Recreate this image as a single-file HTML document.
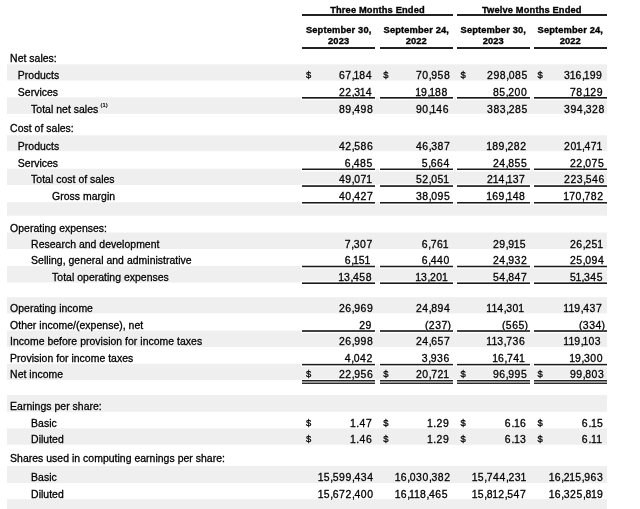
<!DOCTYPE html>
<html><head><meta charset="utf-8"><style>
html,body{margin:0;padding:0;background:#fff;width:640px;height:509px;overflow:hidden;position:relative}
body{font-family:"Liberation Sans",sans-serif;color:#000}
.sh{position:absolute;left:7px;width:600px;background:#efefef}
.t{position:absolute;font-size:10.45px;line-height:14px;white-space:nowrap;-webkit-text-stroke:0.3px #000;text-shadow:0 0 1px #fff,0 0 1px #fff}
.lb{letter-spacing:0.03px}
.n{letter-spacing:0.6px}
.n i{font-style:normal}
.d{font-size:9.4px}
.n i.o{letter-spacing:0.1px;margin-left:-0.75px}
.n i.c{letter-spacing:-0.4px}
.n i.p{letter-spacing:0.5px;margin-left:0.3px}
.sup{position:absolute;left:100.6px;top:101.4px;font-size:5.8px;line-height:8px;-webkit-text-stroke:0.2px #000}
.h{position:absolute;width:120px;text-align:center;font-size:9.3px;line-height:12px;font-weight:bold;white-space:nowrap;letter-spacing:0.15px;-webkit-text-stroke:0.35px #000}
.hl{position:absolute;height:2px;background:#222}
.ul{position:absolute;height:1px;background:#1a1a1a}
.halo{position:absolute;height:1px;background:#fff}
.dl{position:absolute;height:4px;background:linear-gradient(#222 0,#222 1px,#8c8c8c 1px,#8c8c8c 2px,#999 2px,#999 3px,#2a2a2a 3px)}
</style></head><body>
<div id="w" style="position:absolute;left:0;top:0;width:640px;height:509px;will-change:transform"><div class="sh" style="top:65px;height:15px"></div><div class="sh" style="top:64px;height:1px;opacity:0.70"></div><div class="sh" style="top:80px;height:1px;opacity:0.60"></div><div class="sh" style="top:98px;height:15px"></div><div class="sh" style="top:97px;height:1px;opacity:0.70"></div><div class="sh" style="top:113px;height:1px;opacity:0.80"></div><div class="sh" style="top:136px;height:15px"></div><div class="sh" style="top:135px;height:1px;opacity:0.75"></div><div class="sh" style="top:151px;height:1px;opacity:0.20"></div><div class="sh" style="top:169px;height:16px"></div><div class="sh" style="top:168px;height:1px;opacity:0.30"></div><div class="sh" style="top:203px;height:12px"></div><div class="sh" style="top:202px;height:1px;opacity:0.80"></div><div class="sh" style="top:215px;height:1px;opacity:0.70"></div><div class="sh" style="top:233px;height:16px"></div><div class="sh" style="top:232px;height:1px;opacity:0.50"></div><div class="sh" style="top:266px;height:16px"></div><div class="sh" style="top:282px;height:1px;opacity:0.50"></div><div class="sh" style="top:298px;height:15px"></div><div class="sh" style="top:297px;height:1px;opacity:0.80"></div><div class="sh" style="top:313px;height:1px;opacity:0.40"></div><div class="sh" style="top:331px;height:16px"></div><div class="sh" style="top:330px;height:1px;opacity:0.50"></div><div class="sh" style="top:364px;height:16px"></div><div class="sh" style="top:363px;height:1px;opacity:0.25"></div><div class="sh" style="top:395px;height:16px"></div><div class="sh" style="top:411px;height:1px;opacity:0.80"></div><div class="sh" style="top:429px;height:15px"></div><div class="sh" style="top:428px;height:1px;opacity:0.70"></div><div class="sh" style="top:444px;height:1px;opacity:0.80"></div><div class="sh" style="top:466px;height:17px"></div><div class="sh" style="top:500px;height:9px"></div><div class="sh" style="top:499px;height:1px;opacity:0.90"></div><div class="halo" style="left:301.00px;top:95px;width:75.40px;opacity:0.38"></div><div class="halo" style="left:378.60px;top:95px;width:75.40px;opacity:0.38"></div><div class="halo" style="left:455.60px;top:95px;width:75.40px;opacity:0.38"></div><div class="halo" style="left:532.60px;top:95px;width:75.40px;opacity:0.38"></div><div class="halo" style="left:301.00px;top:96px;width:75.40px;opacity:1.00"></div><div class="halo" style="left:378.60px;top:96px;width:75.40px;opacity:1.00"></div><div class="halo" style="left:455.60px;top:96px;width:75.40px;opacity:1.00"></div><div class="halo" style="left:532.60px;top:96px;width:75.40px;opacity:1.00"></div><div class="halo" style="left:301.00px;top:97px;width:75.40px;opacity:1.00"></div><div class="halo" style="left:378.60px;top:97px;width:75.40px;opacity:1.00"></div><div class="halo" style="left:455.60px;top:97px;width:75.40px;opacity:1.00"></div><div class="halo" style="left:532.60px;top:97px;width:75.40px;opacity:1.00"></div><div class="halo" style="left:301.00px;top:98px;width:75.40px;opacity:1.00"></div><div class="halo" style="left:378.60px;top:98px;width:75.40px;opacity:1.00"></div><div class="halo" style="left:455.60px;top:98px;width:75.40px;opacity:1.00"></div><div class="halo" style="left:532.60px;top:98px;width:75.40px;opacity:1.00"></div><div class="halo" style="left:301.00px;top:99px;width:75.40px;opacity:1.00"></div><div class="halo" style="left:378.60px;top:99px;width:75.40px;opacity:1.00"></div><div class="halo" style="left:455.60px;top:99px;width:75.40px;opacity:1.00"></div><div class="halo" style="left:532.60px;top:99px;width:75.40px;opacity:1.00"></div><div class="halo" style="left:301.00px;top:100px;width:75.40px;opacity:0.07"></div><div class="halo" style="left:378.60px;top:100px;width:75.40px;opacity:0.07"></div><div class="halo" style="left:455.60px;top:100px;width:75.40px;opacity:0.07"></div><div class="halo" style="left:532.60px;top:100px;width:75.40px;opacity:0.07"></div><div class="halo" style="left:301.00px;top:167px;width:75.40px;opacity:0.92"></div><div class="halo" style="left:378.60px;top:167px;width:75.40px;opacity:0.92"></div><div class="halo" style="left:455.60px;top:167px;width:75.40px;opacity:0.92"></div><div class="halo" style="left:532.60px;top:167px;width:75.40px;opacity:0.92"></div><div class="halo" style="left:301.00px;top:168px;width:75.40px;opacity:1.00"></div><div class="halo" style="left:378.60px;top:168px;width:75.40px;opacity:1.00"></div><div class="halo" style="left:455.60px;top:168px;width:75.40px;opacity:1.00"></div><div class="halo" style="left:532.60px;top:168px;width:75.40px;opacity:1.00"></div><div class="halo" style="left:301.00px;top:169px;width:75.40px;opacity:1.00"></div><div class="halo" style="left:378.60px;top:169px;width:75.40px;opacity:1.00"></div><div class="halo" style="left:455.60px;top:169px;width:75.40px;opacity:1.00"></div><div class="halo" style="left:532.60px;top:169px;width:75.40px;opacity:1.00"></div><div class="halo" style="left:301.00px;top:170px;width:75.40px;opacity:1.00"></div><div class="halo" style="left:378.60px;top:170px;width:75.40px;opacity:1.00"></div><div class="halo" style="left:455.60px;top:170px;width:75.40px;opacity:1.00"></div><div class="halo" style="left:532.60px;top:170px;width:75.40px;opacity:1.00"></div><div class="halo" style="left:301.00px;top:171px;width:75.40px;opacity:0.53"></div><div class="halo" style="left:378.60px;top:171px;width:75.40px;opacity:0.53"></div><div class="halo" style="left:455.60px;top:171px;width:75.40px;opacity:0.53"></div><div class="halo" style="left:532.60px;top:171px;width:75.40px;opacity:0.53"></div><div class="halo" style="left:301.00px;top:183px;width:75.40px;opacity:0.17"></div><div class="halo" style="left:378.60px;top:183px;width:75.40px;opacity:0.17"></div><div class="halo" style="left:455.60px;top:183px;width:75.40px;opacity:0.17"></div><div class="halo" style="left:532.60px;top:183px;width:75.40px;opacity:0.17"></div><div class="halo" style="left:301.00px;top:184px;width:75.40px;opacity:1.00"></div><div class="halo" style="left:378.60px;top:184px;width:75.40px;opacity:1.00"></div><div class="halo" style="left:455.60px;top:184px;width:75.40px;opacity:1.00"></div><div class="halo" style="left:532.60px;top:184px;width:75.40px;opacity:1.00"></div><div class="halo" style="left:301.00px;top:185px;width:75.40px;opacity:1.00"></div><div class="halo" style="left:378.60px;top:185px;width:75.40px;opacity:1.00"></div><div class="halo" style="left:455.60px;top:185px;width:75.40px;opacity:1.00"></div><div class="halo" style="left:532.60px;top:185px;width:75.40px;opacity:1.00"></div><div class="halo" style="left:301.00px;top:186px;width:75.40px;opacity:1.00"></div><div class="halo" style="left:378.60px;top:186px;width:75.40px;opacity:1.00"></div><div class="halo" style="left:455.60px;top:186px;width:75.40px;opacity:1.00"></div><div class="halo" style="left:532.60px;top:186px;width:75.40px;opacity:1.00"></div><div class="halo" style="left:301.00px;top:187px;width:75.40px;opacity:1.00"></div><div class="halo" style="left:378.60px;top:187px;width:75.40px;opacity:1.00"></div><div class="halo" style="left:455.60px;top:187px;width:75.40px;opacity:1.00"></div><div class="halo" style="left:532.60px;top:187px;width:75.40px;opacity:1.00"></div><div class="halo" style="left:301.00px;top:188px;width:75.40px;opacity:0.28"></div><div class="halo" style="left:378.60px;top:188px;width:75.40px;opacity:0.28"></div><div class="halo" style="left:455.60px;top:188px;width:75.40px;opacity:0.28"></div><div class="halo" style="left:532.60px;top:188px;width:75.40px;opacity:0.28"></div><div class="halo" style="left:301.00px;top:200px;width:75.40px;opacity:0.47"></div><div class="halo" style="left:378.60px;top:200px;width:75.40px;opacity:0.47"></div><div class="halo" style="left:455.60px;top:200px;width:75.40px;opacity:0.47"></div><div class="halo" style="left:532.60px;top:200px;width:75.40px;opacity:0.47"></div><div class="halo" style="left:301.00px;top:201px;width:75.40px;opacity:1.00"></div><div class="halo" style="left:378.60px;top:201px;width:75.40px;opacity:1.00"></div><div class="halo" style="left:455.60px;top:201px;width:75.40px;opacity:1.00"></div><div class="halo" style="left:532.60px;top:201px;width:75.40px;opacity:1.00"></div><div class="halo" style="left:301.00px;top:202px;width:75.40px;opacity:1.00"></div><div class="halo" style="left:378.60px;top:202px;width:75.40px;opacity:1.00"></div><div class="halo" style="left:455.60px;top:202px;width:75.40px;opacity:1.00"></div><div class="halo" style="left:532.60px;top:202px;width:75.40px;opacity:1.00"></div><div class="halo" style="left:301.00px;top:203px;width:75.40px;opacity:1.00"></div><div class="halo" style="left:378.60px;top:203px;width:75.40px;opacity:1.00"></div><div class="halo" style="left:455.60px;top:203px;width:75.40px;opacity:1.00"></div><div class="halo" style="left:532.60px;top:203px;width:75.40px;opacity:1.00"></div><div class="halo" style="left:301.00px;top:204px;width:75.40px;opacity:0.97"></div><div class="halo" style="left:378.60px;top:204px;width:75.40px;opacity:0.97"></div><div class="halo" style="left:455.60px;top:204px;width:75.40px;opacity:0.97"></div><div class="halo" style="left:532.60px;top:204px;width:75.40px;opacity:0.97"></div><div class="halo" style="left:301.00px;top:264px;width:75.40px;opacity:0.73"></div><div class="halo" style="left:378.60px;top:264px;width:75.40px;opacity:0.73"></div><div class="halo" style="left:455.60px;top:264px;width:75.40px;opacity:0.73"></div><div class="halo" style="left:532.60px;top:264px;width:75.40px;opacity:0.73"></div><div class="halo" style="left:301.00px;top:265px;width:75.40px;opacity:1.00"></div><div class="halo" style="left:378.60px;top:265px;width:75.40px;opacity:1.00"></div><div class="halo" style="left:455.60px;top:265px;width:75.40px;opacity:1.00"></div><div class="halo" style="left:532.60px;top:265px;width:75.40px;opacity:1.00"></div><div class="halo" style="left:301.00px;top:266px;width:75.40px;opacity:1.00"></div><div class="halo" style="left:378.60px;top:266px;width:75.40px;opacity:1.00"></div><div class="halo" style="left:455.60px;top:266px;width:75.40px;opacity:1.00"></div><div class="halo" style="left:532.60px;top:266px;width:75.40px;opacity:1.00"></div><div class="halo" style="left:301.00px;top:267px;width:75.40px;opacity:1.00"></div><div class="halo" style="left:378.60px;top:267px;width:75.40px;opacity:1.00"></div><div class="halo" style="left:455.60px;top:267px;width:75.40px;opacity:1.00"></div><div class="halo" style="left:532.60px;top:267px;width:75.40px;opacity:1.00"></div><div class="halo" style="left:301.00px;top:268px;width:75.40px;opacity:0.73"></div><div class="halo" style="left:378.60px;top:268px;width:75.40px;opacity:0.73"></div><div class="halo" style="left:455.60px;top:268px;width:75.40px;opacity:0.73"></div><div class="halo" style="left:532.60px;top:268px;width:75.40px;opacity:0.73"></div><div class="halo" style="left:301.00px;top:281px;width:75.40px;opacity:1.00"></div><div class="halo" style="left:378.60px;top:281px;width:75.40px;opacity:1.00"></div><div class="halo" style="left:455.60px;top:281px;width:75.40px;opacity:1.00"></div><div class="halo" style="left:532.60px;top:281px;width:75.40px;opacity:1.00"></div><div class="halo" style="left:301.00px;top:282px;width:75.40px;opacity:1.00"></div><div class="halo" style="left:378.60px;top:282px;width:75.40px;opacity:1.00"></div><div class="halo" style="left:455.60px;top:282px;width:75.40px;opacity:1.00"></div><div class="halo" style="left:532.60px;top:282px;width:75.40px;opacity:1.00"></div><div class="halo" style="left:301.00px;top:283px;width:75.40px;opacity:1.00"></div><div class="halo" style="left:378.60px;top:283px;width:75.40px;opacity:1.00"></div><div class="halo" style="left:455.60px;top:283px;width:75.40px;opacity:1.00"></div><div class="halo" style="left:532.60px;top:283px;width:75.40px;opacity:1.00"></div><div class="halo" style="left:301.00px;top:284px;width:75.40px;opacity:1.00"></div><div class="halo" style="left:378.60px;top:284px;width:75.40px;opacity:1.00"></div><div class="halo" style="left:455.60px;top:284px;width:75.40px;opacity:1.00"></div><div class="halo" style="left:532.60px;top:284px;width:75.40px;opacity:1.00"></div><div class="halo" style="left:301.00px;top:285px;width:75.40px;opacity:0.43"></div><div class="halo" style="left:378.60px;top:285px;width:75.40px;opacity:0.43"></div><div class="halo" style="left:455.60px;top:285px;width:75.40px;opacity:0.43"></div><div class="halo" style="left:532.60px;top:285px;width:75.40px;opacity:0.43"></div><div class="halo" style="left:301.00px;top:328px;width:75.40px;opacity:0.23"></div><div class="halo" style="left:378.60px;top:328px;width:75.40px;opacity:0.23"></div><div class="halo" style="left:455.60px;top:328px;width:75.40px;opacity:0.23"></div><div class="halo" style="left:532.60px;top:328px;width:75.40px;opacity:0.23"></div><div class="halo" style="left:301.00px;top:329px;width:75.40px;opacity:1.00"></div><div class="halo" style="left:378.60px;top:329px;width:75.40px;opacity:1.00"></div><div class="halo" style="left:455.60px;top:329px;width:75.40px;opacity:1.00"></div><div class="halo" style="left:532.60px;top:329px;width:75.40px;opacity:1.00"></div><div class="halo" style="left:301.00px;top:330px;width:75.40px;opacity:1.00"></div><div class="halo" style="left:378.60px;top:330px;width:75.40px;opacity:1.00"></div><div class="halo" style="left:455.60px;top:330px;width:75.40px;opacity:1.00"></div><div class="halo" style="left:532.60px;top:330px;width:75.40px;opacity:1.00"></div><div class="halo" style="left:301.00px;top:331px;width:75.40px;opacity:1.00"></div><div class="halo" style="left:378.60px;top:331px;width:75.40px;opacity:1.00"></div><div class="halo" style="left:455.60px;top:331px;width:75.40px;opacity:1.00"></div><div class="halo" style="left:532.60px;top:331px;width:75.40px;opacity:1.00"></div><div class="halo" style="left:301.00px;top:332px;width:75.40px;opacity:1.00"></div><div class="halo" style="left:378.60px;top:332px;width:75.40px;opacity:1.00"></div><div class="halo" style="left:455.60px;top:332px;width:75.40px;opacity:1.00"></div><div class="halo" style="left:532.60px;top:332px;width:75.40px;opacity:1.00"></div><div class="halo" style="left:301.00px;top:333px;width:75.40px;opacity:0.23"></div><div class="halo" style="left:378.60px;top:333px;width:75.40px;opacity:0.23"></div><div class="halo" style="left:455.60px;top:333px;width:75.40px;opacity:0.23"></div><div class="halo" style="left:532.60px;top:333px;width:75.40px;opacity:0.23"></div><div class="halo" style="left:301.00px;top:362px;width:75.40px;opacity:0.62"></div><div class="halo" style="left:378.60px;top:362px;width:75.40px;opacity:0.62"></div><div class="halo" style="left:455.60px;top:362px;width:75.40px;opacity:0.62"></div><div class="halo" style="left:532.60px;top:362px;width:75.40px;opacity:0.62"></div><div class="halo" style="left:301.00px;top:363px;width:75.40px;opacity:1.00"></div><div class="halo" style="left:378.60px;top:363px;width:75.40px;opacity:1.00"></div><div class="halo" style="left:455.60px;top:363px;width:75.40px;opacity:1.00"></div><div class="halo" style="left:532.60px;top:363px;width:75.40px;opacity:1.00"></div><div class="halo" style="left:301.00px;top:364px;width:75.40px;opacity:1.00"></div><div class="halo" style="left:378.60px;top:364px;width:75.40px;opacity:1.00"></div><div class="halo" style="left:455.60px;top:364px;width:75.40px;opacity:1.00"></div><div class="halo" style="left:532.60px;top:364px;width:75.40px;opacity:1.00"></div><div class="halo" style="left:301.00px;top:365px;width:75.40px;opacity:1.00"></div><div class="halo" style="left:378.60px;top:365px;width:75.40px;opacity:1.00"></div><div class="halo" style="left:455.60px;top:365px;width:75.40px;opacity:1.00"></div><div class="halo" style="left:532.60px;top:365px;width:75.40px;opacity:1.00"></div><div class="halo" style="left:301.00px;top:366px;width:75.40px;opacity:0.83"></div><div class="halo" style="left:378.60px;top:366px;width:75.40px;opacity:0.83"></div><div class="halo" style="left:455.60px;top:366px;width:75.40px;opacity:0.83"></div><div class="halo" style="left:532.60px;top:366px;width:75.40px;opacity:0.83"></div><div class="halo" style="left:301.00px;top:379px;width:75.40px;height:6px;opacity:0.8"></div><div class="halo" style="left:378.60px;top:379px;width:75.40px;height:6px;opacity:0.8"></div><div class="halo" style="left:455.60px;top:379px;width:75.40px;height:6px;opacity:0.8"></div><div class="halo" style="left:532.60px;top:379px;width:75.40px;height:6px;opacity:0.8"></div><div class="ul" style="left:302.20px;top:97px;width:73.0px;opacity:1.00"></div><div class="ul" style="left:379.80px;top:97px;width:73.0px;opacity:1.00"></div><div class="ul" style="left:456.80px;top:97px;width:73.0px;opacity:1.00"></div><div class="ul" style="left:533.80px;top:97px;width:73.0px;opacity:1.00"></div><div class="ul" style="left:302.20px;top:98px;width:73.0px;opacity:0.66"></div><div class="ul" style="left:379.80px;top:98px;width:73.0px;opacity:0.66"></div><div class="ul" style="left:456.80px;top:98px;width:73.0px;opacity:0.66"></div><div class="ul" style="left:533.80px;top:98px;width:73.0px;opacity:0.66"></div><div class="ul" style="left:302.20px;top:168px;width:73.0px;opacity:0.49"></div><div class="ul" style="left:379.80px;top:168px;width:73.0px;opacity:0.49"></div><div class="ul" style="left:456.80px;top:168px;width:73.0px;opacity:0.49"></div><div class="ul" style="left:533.80px;top:168px;width:73.0px;opacity:0.49"></div><div class="ul" style="left:302.20px;top:169px;width:73.0px;opacity:1.00"></div><div class="ul" style="left:379.80px;top:169px;width:73.0px;opacity:1.00"></div><div class="ul" style="left:456.80px;top:169px;width:73.0px;opacity:1.00"></div><div class="ul" style="left:533.80px;top:169px;width:73.0px;opacity:1.00"></div><div class="ul" style="left:302.20px;top:185px;width:73.0px;opacity:0.78"></div><div class="ul" style="left:379.80px;top:185px;width:73.0px;opacity:0.78"></div><div class="ul" style="left:456.80px;top:185px;width:73.0px;opacity:0.78"></div><div class="ul" style="left:533.80px;top:185px;width:73.0px;opacity:0.78"></div><div class="ul" style="left:302.20px;top:186px;width:73.0px;opacity:0.89"></div><div class="ul" style="left:379.80px;top:186px;width:73.0px;opacity:0.89"></div><div class="ul" style="left:456.80px;top:186px;width:73.0px;opacity:0.89"></div><div class="ul" style="left:533.80px;top:186px;width:73.0px;opacity:0.89"></div><div class="ul" style="left:302.20px;top:202px;width:73.0px;opacity:1.00"></div><div class="ul" style="left:379.80px;top:202px;width:73.0px;opacity:1.00"></div><div class="ul" style="left:456.80px;top:202px;width:73.0px;opacity:1.00"></div><div class="ul" style="left:533.80px;top:202px;width:73.0px;opacity:1.00"></div><div class="ul" style="left:302.20px;top:203px;width:73.0px;opacity:0.55"></div><div class="ul" style="left:379.80px;top:203px;width:73.0px;opacity:0.55"></div><div class="ul" style="left:456.80px;top:203px;width:73.0px;opacity:0.55"></div><div class="ul" style="left:533.80px;top:203px;width:73.0px;opacity:0.55"></div><div class="ul" style="left:302.20px;top:265px;width:73.0px;opacity:0.26"></div><div class="ul" style="left:379.80px;top:265px;width:73.0px;opacity:0.26"></div><div class="ul" style="left:456.80px;top:265px;width:73.0px;opacity:0.26"></div><div class="ul" style="left:533.80px;top:265px;width:73.0px;opacity:0.26"></div><div class="ul" style="left:302.20px;top:266px;width:73.0px;opacity:1.00"></div><div class="ul" style="left:379.80px;top:266px;width:73.0px;opacity:1.00"></div><div class="ul" style="left:456.80px;top:266px;width:73.0px;opacity:1.00"></div><div class="ul" style="left:533.80px;top:266px;width:73.0px;opacity:1.00"></div><div class="ul" style="left:302.20px;top:267px;width:73.0px;opacity:0.26"></div><div class="ul" style="left:379.80px;top:267px;width:73.0px;opacity:0.26"></div><div class="ul" style="left:456.80px;top:267px;width:73.0px;opacity:0.26"></div><div class="ul" style="left:533.80px;top:267px;width:73.0px;opacity:0.26"></div><div class="ul" style="left:302.20px;top:282px;width:73.0px;opacity:0.60"></div><div class="ul" style="left:379.80px;top:282px;width:73.0px;opacity:0.60"></div><div class="ul" style="left:456.80px;top:282px;width:73.0px;opacity:0.60"></div><div class="ul" style="left:533.80px;top:282px;width:73.0px;opacity:0.60"></div><div class="ul" style="left:302.20px;top:283px;width:73.0px;opacity:1.00"></div><div class="ul" style="left:379.80px;top:283px;width:73.0px;opacity:1.00"></div><div class="ul" style="left:456.80px;top:283px;width:73.0px;opacity:1.00"></div><div class="ul" style="left:533.80px;top:283px;width:73.0px;opacity:1.00"></div><div class="ul" style="left:302.20px;top:330px;width:73.0px;opacity:0.83"></div><div class="ul" style="left:379.80px;top:330px;width:73.0px;opacity:0.83"></div><div class="ul" style="left:456.80px;top:330px;width:73.0px;opacity:0.83"></div><div class="ul" style="left:533.80px;top:330px;width:73.0px;opacity:0.83"></div><div class="ul" style="left:302.20px;top:331px;width:73.0px;opacity:0.83"></div><div class="ul" style="left:379.80px;top:331px;width:73.0px;opacity:0.83"></div><div class="ul" style="left:456.80px;top:331px;width:73.0px;opacity:0.83"></div><div class="ul" style="left:533.80px;top:331px;width:73.0px;opacity:0.83"></div><div class="ul" style="left:302.20px;top:363px;width:73.0px;opacity:0.14"></div><div class="ul" style="left:379.80px;top:363px;width:73.0px;opacity:0.14"></div><div class="ul" style="left:456.80px;top:363px;width:73.0px;opacity:0.14"></div><div class="ul" style="left:533.80px;top:363px;width:73.0px;opacity:0.14"></div><div class="ul" style="left:302.20px;top:364px;width:73.0px;opacity:1.00"></div><div class="ul" style="left:379.80px;top:364px;width:73.0px;opacity:1.00"></div><div class="ul" style="left:456.80px;top:364px;width:73.0px;opacity:1.00"></div><div class="ul" style="left:533.80px;top:364px;width:73.0px;opacity:1.00"></div><div class="ul" style="left:302.20px;top:365px;width:73.0px;opacity:0.37"></div><div class="ul" style="left:379.80px;top:365px;width:73.0px;opacity:0.37"></div><div class="ul" style="left:456.80px;top:365px;width:73.0px;opacity:0.37"></div><div class="ul" style="left:533.80px;top:365px;width:73.0px;opacity:0.37"></div><div class="dl" style="left:302.20px;top:380px;width:73.0px"></div><div class="dl" style="left:379.80px;top:380px;width:73.0px"></div><div class="dl" style="left:456.80px;top:380px;width:73.0px"></div><div class="dl" style="left:533.80px;top:380px;width:73.0px"></div><div class="t lb" style="left:10.10px;top:52.00px">Net sales:</div><div class="t lb" style="left:17.85px;top:69.00px">Products</div><div class="t n" style="left:338.90px;top:69.00px">67<i class="c">,</i><i class="o">1</i>84</div><div class="t d" style="left:306.10px;top:68.00px">$</div><div class="t n" style="left:415.90px;top:69.00px">70<i class="c">,</i>958</div><div class="t d" style="left:383.20px;top:68.00px">$</div><div class="t n" style="left:487.00px;top:69.00px">298<i class="c">,</i>085</div><div class="t d" style="left:460.40px;top:68.00px">$</div><div class="t n" style="left:564.00px;top:69.00px">3<i class="o">1</i>6<i class="c">,</i><i class="o">1</i>99</div><div class="t d" style="left:537.60px;top:68.00px">$</div><div class="t lb" style="left:17.85px;top:86.00px">Services</div><div class="t n" style="left:338.90px;top:86.00px">22<i class="c">,</i>3<i class="o">1</i>4</div><div class="t n" style="left:415.90px;top:86.00px"><i class="o">1</i>9<i class="c">,</i><i class="o">1</i>88</div><div class="t n" style="left:492.90px;top:86.00px">85<i class="c">,</i>200</div><div class="t n" style="left:569.90px;top:86.00px">78<i class="c">,</i><i class="o">1</i>29</div><div class="sup">(1)</div><div class="t lb" style="left:31.10px;top:103.00px">Total net sales</div><div class="t n" style="left:338.90px;top:103.00px">89<i class="c">,</i>498</div><div class="t n" style="left:415.90px;top:103.00px">90<i class="c">,</i><i class="o">1</i>46</div><div class="t n" style="left:487.00px;top:103.00px">383<i class="c">,</i>285</div><div class="t n" style="left:564.00px;top:103.00px">394<i class="c">,</i>328</div><div class="t lb" style="left:10.10px;top:122.00px">Cost of sales:</div><div class="t lb" style="left:17.85px;top:140.00px">Products</div><div class="t n" style="left:338.90px;top:140.00px">42<i class="c">,</i>586</div><div class="t n" style="left:415.90px;top:140.00px">46<i class="c">,</i>387</div><div class="t n" style="left:487.00px;top:140.00px"><i class="o">1</i>89<i class="c">,</i>282</div><div class="t n" style="left:564.00px;top:140.00px">20<i class="o">1</i><i class="c">,</i>47<i class="o">1</i></div><div class="t lb" style="left:17.85px;top:157.00px">Services</div><div class="t n" style="left:344.80px;top:157.00px">6<i class="c">,</i>485</div><div class="t n" style="left:421.80px;top:157.00px">5<i class="c">,</i>664</div><div class="t n" style="left:492.90px;top:157.00px">24<i class="c">,</i>855</div><div class="t n" style="left:569.90px;top:157.00px">22<i class="c">,</i>075</div><div class="t lb" style="left:31.10px;top:173.00px">Total cost of sales</div><div class="t n" style="left:338.90px;top:173.00px">49<i class="c">,</i>07<i class="o">1</i></div><div class="t n" style="left:415.90px;top:173.00px">52<i class="c">,</i>05<i class="o">1</i></div><div class="t n" style="left:487.00px;top:173.00px">2<i class="o">1</i>4<i class="c">,</i><i class="o">1</i>37</div><div class="t n" style="left:564.00px;top:173.00px">223<i class="c">,</i>546</div><div class="t lb" style="left:52.10px;top:190.00px">Gross margin</div><div class="t n" style="left:338.90px;top:190.00px">40<i class="c">,</i>427</div><div class="t n" style="left:415.90px;top:190.00px">38<i class="c">,</i>095</div><div class="t n" style="left:487.00px;top:190.00px"><i class="o">1</i>69<i class="c">,</i><i class="o">1</i>48</div><div class="t n" style="left:564.00px;top:190.00px"><i class="o">1</i>70<i class="c">,</i>782</div><div class="t lb" style="left:10.10px;top:222.00px">Operating expenses:</div><div class="t lb" style="left:31.10px;top:238.00px">Research and development</div><div class="t n" style="left:344.80px;top:238.00px">7<i class="c">,</i>307</div><div class="t n" style="left:421.80px;top:238.00px">6<i class="c">,</i>76<i class="o">1</i></div><div class="t n" style="left:492.90px;top:238.00px">29<i class="c">,</i>9<i class="o">1</i>5</div><div class="t n" style="left:569.90px;top:238.00px">26<i class="c">,</i>25<i class="o">1</i></div><div class="t lb" style="left:31.10px;top:254.00px">Selling, general and administrative</div><div class="t n" style="left:344.80px;top:254.00px">6<i class="c">,</i><i class="o">1</i>5<i class="o">1</i></div><div class="t n" style="left:421.80px;top:254.00px">6<i class="c">,</i>440</div><div class="t n" style="left:492.90px;top:254.00px">24<i class="c">,</i>932</div><div class="t n" style="left:569.90px;top:254.00px">25<i class="c">,</i>094</div><div class="t lb" style="left:52.10px;top:271.00px">Total operating expenses</div><div class="t n" style="left:338.90px;top:271.00px"><i class="o">1</i>3<i class="c">,</i>458</div><div class="t n" style="left:415.90px;top:271.00px"><i class="o">1</i>3<i class="c">,</i>20<i class="o">1</i></div><div class="t n" style="left:492.90px;top:271.00px">54<i class="c">,</i>847</div><div class="t n" style="left:569.90px;top:271.00px">5<i class="o">1</i><i class="c">,</i>345</div><div class="t lb" style="left:10.10px;top:302.00px">Operating income</div><div class="t n" style="left:338.90px;top:302.00px">26<i class="c">,</i>969</div><div class="t n" style="left:415.90px;top:302.00px">24<i class="c">,</i>894</div><div class="t n" style="left:487.00px;top:302.00px"><i class="o">1</i><i class="o">1</i>4<i class="c">,</i>30<i class="o">1</i></div><div class="t n" style="left:564.00px;top:302.00px"><i class="o">1</i><i class="o">1</i>9<i class="c">,</i>437</div><div class="t lb" style="left:10.10px;top:319.00px">Other income/(expense), net</div><div class="t n" style="left:359.20px;top:319.00px">29</div><div class="t" style="left:425.00px;top:319.00px">(</div><div class="t n" style="left:428.80px;top:319.00px">237</div><div class="t" style="left:447.60px;top:319.00px">)</div><div class="t" style="left:502.00px;top:319.00px">(</div><div class="t n" style="left:505.80px;top:319.00px">565</div><div class="t" style="left:524.60px;top:319.00px">)</div><div class="t" style="left:579.00px;top:319.00px">(</div><div class="t n" style="left:582.80px;top:319.00px">334</div><div class="t" style="left:601.60px;top:319.00px">)</div><div class="t lb" style="left:10.10px;top:335.00px">Income before provision for income taxes</div><div class="t n" style="left:338.90px;top:335.00px">26<i class="c">,</i>998</div><div class="t n" style="left:415.90px;top:335.00px">24<i class="c">,</i>657</div><div class="t n" style="left:487.00px;top:335.00px"><i class="o">1</i><i class="o">1</i>3<i class="c">,</i>736</div><div class="t n" style="left:564.00px;top:335.00px"><i class="o">1</i><i class="o">1</i>9<i class="c">,</i><i class="o">1</i>03</div><div class="t lb" style="left:10.10px;top:352.00px">Provision for income taxes</div><div class="t n" style="left:344.80px;top:352.00px">4<i class="c">,</i>042</div><div class="t n" style="left:421.80px;top:352.00px">3<i class="c">,</i>936</div><div class="t n" style="left:492.90px;top:352.00px"><i class="o">1</i>6<i class="c">,</i>74<i class="o">1</i></div><div class="t n" style="left:569.90px;top:352.00px"><i class="o">1</i>9<i class="c">,</i>300</div><div class="t lb" style="left:10.10px;top:368.00px">Net income</div><div class="t n" style="left:338.90px;top:368.00px">22<i class="c">,</i>956</div><div class="t d" style="left:306.10px;top:367.00px">$</div><div class="t n" style="left:415.90px;top:368.00px">20<i class="c">,</i>72<i class="o">1</i></div><div class="t d" style="left:383.20px;top:367.00px">$</div><div class="t n" style="left:492.90px;top:368.00px">96<i class="c">,</i>995</div><div class="t d" style="left:460.40px;top:367.00px">$</div><div class="t n" style="left:569.90px;top:368.00px">99<i class="c">,</i>803</div><div class="t d" style="left:537.60px;top:367.00px">$</div><div class="t lb" style="left:10.10px;top:400.00px">Earnings per share:</div><div class="t lb" style="left:31.10px;top:417.00px">Basic</div><div class="t n" style="left:350.70px;top:417.00px"><i class="o">1</i><i class="p">.</i>47</div><div class="t d" style="left:306.10px;top:416.00px">$</div><div class="t n" style="left:427.70px;top:417.00px"><i class="o">1</i><i class="p">.</i>29</div><div class="t d" style="left:383.20px;top:416.00px">$</div><div class="t n" style="left:504.70px;top:417.00px">6<i class="p">.</i><i class="o">1</i>6</div><div class="t d" style="left:460.40px;top:416.00px">$</div><div class="t n" style="left:581.70px;top:417.00px">6<i class="p">.</i><i class="o">1</i>5</div><div class="t d" style="left:537.60px;top:416.00px">$</div><div class="t lb" style="left:31.10px;top:433.00px">Diluted</div><div class="t n" style="left:350.70px;top:433.00px"><i class="o">1</i><i class="p">.</i>46</div><div class="t d" style="left:306.10px;top:432.00px">$</div><div class="t n" style="left:427.70px;top:433.00px"><i class="o">1</i><i class="p">.</i>29</div><div class="t d" style="left:383.20px;top:432.00px">$</div><div class="t n" style="left:504.70px;top:433.00px">6<i class="p">.</i><i class="o">1</i>3</div><div class="t d" style="left:460.40px;top:432.00px">$</div><div class="t n" style="left:581.70px;top:433.00px">6<i class="p">.</i><i class="o">1</i><i class="o">1</i></div><div class="t d" style="left:537.60px;top:432.00px">$</div><div class="t lb" style="left:10.10px;top:452.00px">Shares used in computing earnings per share:</div><div class="t lb" style="left:31.10px;top:471.00px">Basic</div><div class="t n" style="left:318.60px;top:471.00px"><i class="o">1</i>5<i class="c">,</i>599<i class="c">,</i>434</div><div class="t n" style="left:395.60px;top:471.00px"><i class="o">1</i>6<i class="c">,</i>030<i class="c">,</i>382</div><div class="t n" style="left:472.60px;top:471.00px"><i class="o">1</i>5<i class="c">,</i>744<i class="c">,</i>23<i class="o">1</i></div><div class="t n" style="left:549.60px;top:471.00px"><i class="o">1</i>6<i class="c">,</i>2<i class="o">1</i>5<i class="c">,</i>963</div><div class="t lb" style="left:31.10px;top:488.00px">Diluted</div><div class="t n" style="left:318.60px;top:488.00px"><i class="o">1</i>5<i class="c">,</i>672<i class="c">,</i>400</div><div class="t n" style="left:395.60px;top:488.00px"><i class="o">1</i>6<i class="c">,</i><i class="o">1</i><i class="o">1</i>8<i class="c">,</i>465</div><div class="t n" style="left:472.60px;top:488.00px"><i class="o">1</i>5<i class="c">,</i>8<i class="o">1</i>2<i class="c">,</i>547</div><div class="t n" style="left:549.60px;top:488.00px"><i class="o">1</i>6<i class="c">,</i>325<i class="c">,</i>8<i class="o">1</i>9</div>
<div class="h" style="left:317.50px;top:3.88px">Three Months Ended</div><div class="h" style="left:471.80px;top:3.88px">Twelve Months Ended</div><div class="hl" style="left:302.20px;top:14px;width:150.60px"></div><div class="hl" style="left:456.80px;top:14px;width:150.00px"></div><div class="h" style="left:278.70px;top:23.53px">September 30,</div><div class="h" style="left:278.70px;top:34.78px">2023</div><div class="hl" style="left:302.20px;top:47px;width:73.0px"></div><div class="h" style="left:356.30px;top:23.53px">September 24,</div><div class="h" style="left:356.30px;top:34.78px">2022</div><div class="hl" style="left:379.80px;top:47px;width:73.0px"></div><div class="h" style="left:433.30px;top:23.53px">September 30,</div><div class="h" style="left:433.30px;top:34.78px">2023</div><div class="hl" style="left:456.80px;top:47px;width:73.0px"></div><div class="h" style="left:510.30px;top:23.53px">September 24,</div><div class="h" style="left:510.30px;top:34.78px">2022</div><div class="hl" style="left:533.80px;top:47px;width:73.0px"></div></div>
</body></html>
